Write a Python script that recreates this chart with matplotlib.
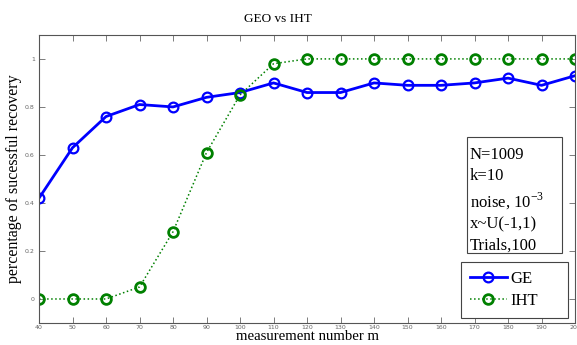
import numpy as np
import matplotlib.pyplot as plt
from matplotlib.patches import Rectangle

m = [40, 50, 60, 70, 80, 90, 100, 110, 120, 130, 140, 150, 160, 170, 180, 190, 200]
ge = [0.42, 0.63, 0.76, 0.81, 0.80, 0.84, 0.86, 0.90, 0.86, 0.86, 0.90, 0.89,
      0.89, 0.90, 0.92, 0.89, 0.93]
iht = [0.0, 0.0, 0.0, 0.05, 0.28, 0.61, 0.85, 0.98, 1.0, 1.0, 1.0, 1.0,
       1.0, 1.0, 1.0, 1.0, 1.0]
yticks = [0, 0.2, 0.4, 0.6, 0.8, 1]
info_lines = ["N=1009", "k=10", r"noise, $10^{-3}$", "x~U(-1,1)", "Trials,100"]

serif = "Liberation Serif"
plt.rcParams['mathtext.fontset'] = 'custom'
plt.rcParams['mathtext.rm'] = serif

fig = plt.figure(figsize=(5.77, 3.45), dpi=100)
ax = fig.add_axes([0.0676, 0.0638, 0.929, 0.835])

ax.plot(m, ge, color='#0000ff', lw=2, marker='o', ms=7, mfc='none',
        mew=1.6, label='GE')
ax.plot(m, iht, color='#008000', lw=1.1, ls=':', marker='o', ms=7, mfc='none',
        mew=2, label='IHT')

ax.set_xlim(40, 200)
ax.set_ylim(-0.1, 1.1)
ax.set_xticks(m)
ax.set_xticklabels([str(v) for v in m])
ax.set_yticks(yticks)
ax.set_yticklabels([str(v) for v in yticks])
ax.tick_params(direction='in', top=True, right=True, labelsize=4.5,
               colors='#666666', length=4, width=0.6, pad=3)
ax.tick_params(axis='x', pad=1.5)
for s in ax.spines.values():
    s.set_color('#555555')
    s.set_linewidth(0.8)

ax.set_title('GEO vs IHT', fontfamily=serif, fontsize=9.5, pad=9, x=0.445)
ax.set_xlabel('measurement number m', fontfamily=serif, fontsize=10.6, labelpad=0)
ax.set_ylabel('percentage of sucessful recovery', fontfamily=serif, fontsize=11.5)
ax.yaxis.set_label_coords(-0.032, 0.5)

# info box
ax.add_patch(Rectangle((0.799, 0.243), 0.177, 0.403, transform=ax.transAxes,
                       fc='white', ec='#444444', lw=0.8, zorder=5))
ax.text(0.804, 0.612, "\n".join(info_lines), transform=ax.transAxes,
        fontfamily=serif, fontsize=12, va='top', ha='left', linespacing=1.42,
        zorder=6)

leg = ax.legend(loc='lower left', bbox_to_anchor=(0.787, 0.017, 0.2, 0.19),
                mode='expand', prop={'family': serif, 'size': 12},
                fancybox=False, edgecolor='#444444', framealpha=1,
                handlelength=2.2, handletextpad=0.25, labelspacing=0.35,
                borderpad=0.55, borderaxespad=0)
leg.get_frame().set_linewidth(0.8)

fig.savefig('out.png', dpi=100)
